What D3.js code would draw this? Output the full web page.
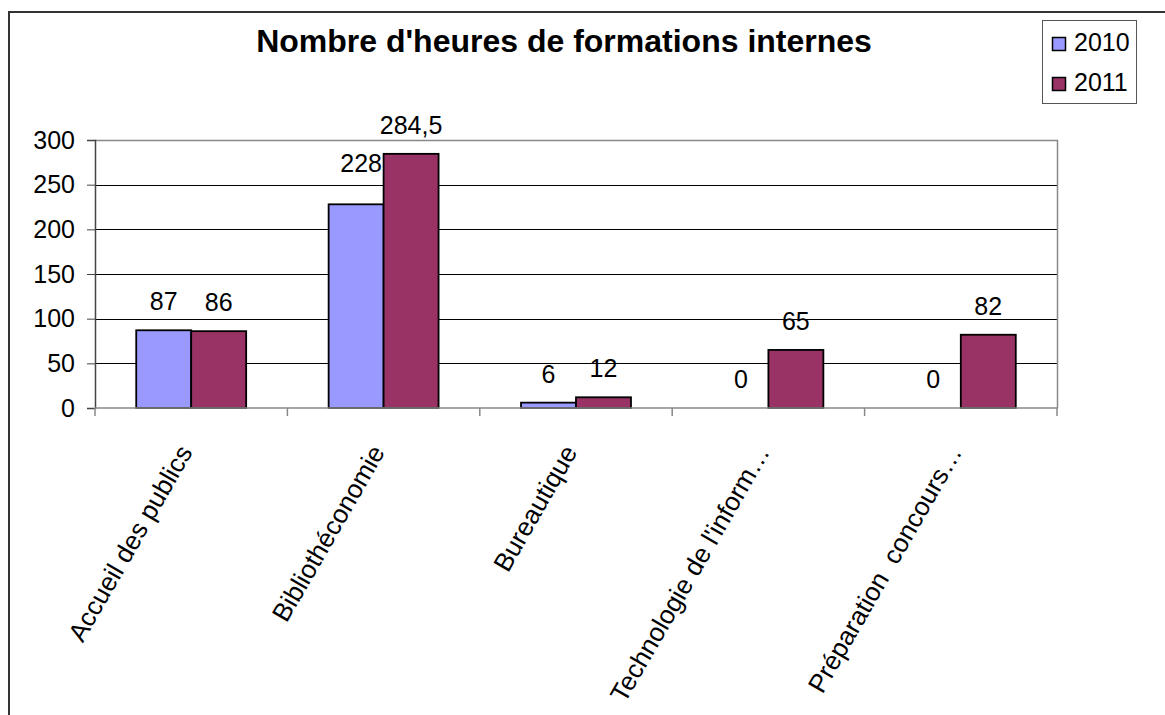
<!DOCTYPE html>
<html>
<head>
<meta charset="utf-8">
<script src="https://cdn.jsdelivr.net/npm/d3@7"></script>
<style>
  body { margin: 0; background: #fff; }
  svg { display: block; font-family: "Liberation Sans", Arial, sans-serif; }
</style>
</head>
<body>
<svg id="chart" width="1165" height="715"></svg>
<script>
// donnees du graphique
var categories = ["Accueil des publics", "Bibliothéconomie", "Bureautique", "Technologie de l'inform…", "Préparation  concours…"];
var annees = ["2010", "2011"];
var heures2010 = [87, 228, 6, 0, 0];
var heures2011 = [86, 284.5, 12, 65, 82];
var yTicks = [0, 50, 100, 150, 200, 250, 300];
var titre = "Nombre d'heures de formations internes";

var couleurs = ["#9999FF", "#993366"];

var svg = d3.select("#chart");
var margin = {top: 140, left: 95, right: 108, bottom: 307};
var width = 1165 - margin.left - margin.right,
    height = 715 - margin.top - margin.bottom;

// cadre exterieur
svg.append("rect")
    .attr("x", 9).attr("y", 12)
    .attr("width", 1300).attr("height", 900)
    .attr("fill", "none").attr("stroke", "#333").attr("stroke-width", 2);

svg.append("text")
    .attr("x", 564).attr("y", 52)
    .attr("text-anchor", "middle")
    .attr("font-size", 32).attr("font-weight", "bold")
    .text(titre);

var g = svg.append("g").attr("transform", "translate(" + margin.left + "," + margin.top + ")");

var x0 = d3.scaleBand().domain(categories).range([0, width]).paddingInner(0).paddingOuter(0);
var x1 = d3.scaleBand().domain(annees).range([0, x0.bandwidth()]).paddingOuter(0.75).paddingInner(0);
var y = d3.scaleLinear().domain([0, 300]).range([height, 0]);

// grille
g.selectAll(".grid").data(yTicks.filter(function(d){ return d > 0 && d < 300; }))
    .enter().append("line")
    .attr("x1", 0).attr("x2", width)
    .attr("y1", function(d){ return Math.round(y(d)) + 0.5; })
    .attr("y2", function(d){ return Math.round(y(d)) + 0.5; })
    .attr("stroke", "#000").attr("stroke-width", 1);

// bord de la zone de trace
g.append("path")
    .attr("d", "M0," + (y(300)+0.5) + "H" + (width+0.5) + "V" + height)
    .attr("fill", "none").attr("stroke", "#888").attr("stroke-width", 1.5);

var rows = categories.map(function(c, i){ return {cat: c, v: [heures2010[i], heures2011[i]]}; });

var groups = g.selectAll(".cat").data(rows).enter().append("g")
    .attr("transform", function(d){ return "translate(" + x0(d.cat) + ",0)"; });

groups.selectAll("rect")
    .data(function(d){ return d.v.map(function(v, j){ return {an: annees[j], v: v, j: j}; }); })
    .enter().filter(function(d){ return d.v > 0; }).append("rect")
    .attr("x", function(d){ return x1(d.an); })
    .attr("y", function(d){ return y(d.v); })
    .attr("width", x1.bandwidth())
    .attr("height", function(d){ return height - y(d.v); })
    .attr("fill", function(d){ return couleurs[d.j]; })
    .attr("stroke", "#000").attr("stroke-width", 1.8);

// etiquettes de valeurs
groups.each(function(d, i){
    var gg = d3.select(this);
    d.v.forEach(function(v, j){
        var dx = 0, dy = 0;
        if (i === 1 && j === 0) { dx = 5; dy = -12; } // deplacee dans l'original
        gg.append("text")
            .attr("x", x1(annees[j]) + x1.bandwidth()/2 + dx)
            .attr("y", y(v) - 20 + dy)
            .attr("text-anchor", "middle")
            .attr("font-size", 25)
            .text(String(v).replace(".", ","));
    });
});

// axe y
var axeY = g.append("g")
    .call(d3.axisLeft(y).tickValues(yTicks).tickSize(8).tickPadding(12));
axeY.select(".domain").attr("stroke", "#444").attr("stroke-width", 1.5);
axeY.selectAll(".tick line").attr("stroke", "#444");
axeY.selectAll("text").attr("font-size", 25).attr("fill", "#000").attr("font-family", null);

// axe x
var bornes = d3.range(categories.length + 1).map(function(i){ return i * x0.bandwidth(); });
var axeX = g.append("g").attr("transform", "translate(0," + height + ")");
axeX.append("line").attr("x1", 0).attr("x2", width + 1)
    .attr("stroke", "#888").attr("stroke-width", 1.5);
axeX.selectAll(".tk").data(bornes).enter().append("line")
    .attr("x1", function(d){ return d; }).attr("x2", function(d){ return d; })
    .attr("y1", 0).attr("y2", 8)
    .attr("stroke", "#888").attr("stroke-width", 1.5);
axeX.selectAll(".lab").data(categories).enter().append("text")
    .attr("transform", function(d){
        return "translate(" + (x0(d) + x0.bandwidth()/2 + 2) + ",44) rotate(-60)";
    })
    .attr("text-anchor", "end")
    .attr("font-size", 26)
    .text(function(d){ return d; })
    .style("white-space", "pre");

// legende
var leg = svg.append("g");
leg.append("rect").attr("x", 1042.5).attr("y", 20.5).attr("width", 94).attr("height", 83)
    .attr("fill", "#fff").attr("stroke", "#555").attr("stroke-width", 1);
annees.forEach(function(a, i){
    leg.append("rect").attr("x", 1052.5).attr("y", 37.5 + i * 40).attr("width", 13).attr("height", 13)
        .attr("fill", couleurs[i]).attr("stroke", "#000").attr("stroke-width", 1.5);
    leg.append("text").attr("x", 1074).attr("y", 51 + i * 40)
        .attr("font-size", 25).text(a);
});
</script>
</body>
</html>
